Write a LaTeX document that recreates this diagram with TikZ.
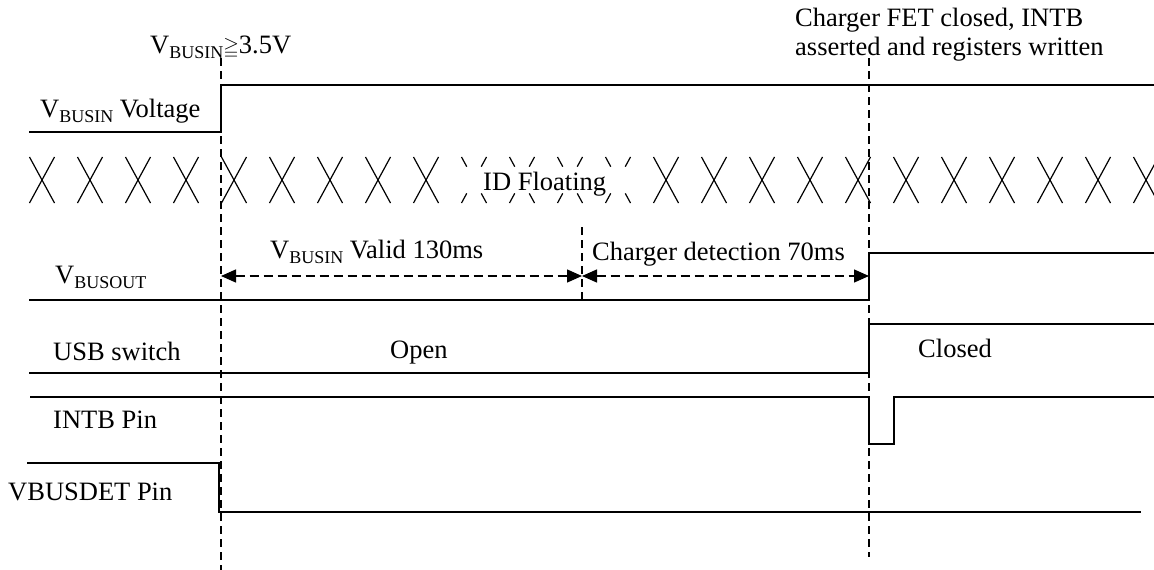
\documentclass[tikz,border=0pt]{standalone}
\usepackage{fontspec}
\usepackage{amssymb}
\setmainfont{Liberation Serif}
\usetikzlibrary{arrows.meta}
\newcommand{\subtxt}[1]{\raisebox{-0.22em}{\fontsize{18}{18}\selectfont #1}}

\begin{document}
\begin{tikzpicture}[x=1pt,y=-1pt,
  signal/.style={line width=1.5pt},
  markline/.style={line width=1.3pt, dash pattern=on 8pt off 5pt},
  timespan/.style={line width=1.4pt, dash pattern=on 9pt off 5pt, {Triangle[length=15pt,width=13pt]}-{Triangle[length=15pt,width=13pt]}},
  cross/.style={line width=1.2pt},
  faded cross/.style={line width=1.2pt, dash pattern=on 11pt off 30.4pt},
  lbl/.style={anchor=base west, inner sep=0pt, font=\fontsize{26.5}{28}\selectfont}]

	\useasboundingbox (0,0) rectangle (1154,570);

	%time marks
	\coordinate (t1top) at (221,58);
	\coordinate (t1bot) at (221,570);
	\coordinate (t2top) at (869,58);
	\coordinate (t2bot) at (869,557);
	\coordinate (tmtop) at (582,227);
	\coordinate (tmbot) at (582,300);
	\draw[markline] (t1top) -- (t1bot);
	\draw[markline] (t2top) -- (t2bot);
	\draw[markline] (tmtop) -- (tmbot);

	%signals
	\draw[signal] (29,132) -- (221,132) -- (221,85) -- (1154,85);
	\draw[signal] (29,300) -- (869,300) -- (869,253) -- (1154,253);
	\draw[signal] (29,373) -- (869,373) -- (869,324) -- (1154,324);
	\draw[signal] (30,397) -- (869,397) -- (869,444) -- (894,444) -- (894,397) -- (1154,397);
	\draw[signal] (27,463) -- (219,463) -- (219,512) -- (1141,512);

	%ID line
	\foreach \k in {0,...,8,13,14,...,23}
		\draw[cross] (42+48*\k-12.5,157) -- (42+48*\k+12.5,203)
			(42+48*\k+12.5,157) -- (42+48*\k-12.5,203);
	\foreach \k in {9,...,12}
		\draw[faded cross] (42+48*\k-12.5,157) -- (42+48*\k+12.5,203)
			(42+48*\k+12.5,157) -- (42+48*\k-12.5,203);

	%intervals
	\coordinate (a1) at (221,276);
	\coordinate (a2) at (582,276);
	\coordinate (a3) at (869,276);
	\draw[timespan] (a1) -- (a2);
	\draw[timespan] (a2) -- (a3);

	%labels
	\node[lbl] (vth) at (150,53) {V\subtxt{BUSIN}{\fontsize{20}{20}\selectfont$\geqq$}3.5V};
	\node[lbl] (vin) at (40,117) {V\subtxt{BUSIN} Voltage};
	\node[lbl] (idf) at (483,190) {ID Floating};
	\node[lbl] (valid) at (270,258) {V\subtxt{BUSIN} Valid 130ms};
	\node[lbl] (det) at (592,260) {Charger detection 70ms};
	\node[lbl] (vout) at (55,283) {V\subtxt{BUSOUT}};
	\node[lbl] (usb) at (53,360) {USB switch};
	\node[lbl] (open) at (390,358) {Open};
	\node[lbl] (closed) at (918,357) {Closed};
	\node[lbl] (intb) at (53,428) {INTB Pin};
	\node[lbl] (vdet) at (8,500) {VBUSDET Pin};
	\node[lbl] (fetA) at (795,27) {Charger FET closed, INTB};
	\node[lbl] (fetB) at (795,55) {asserted and registers written};

\end{tikzpicture}
\end{document}
